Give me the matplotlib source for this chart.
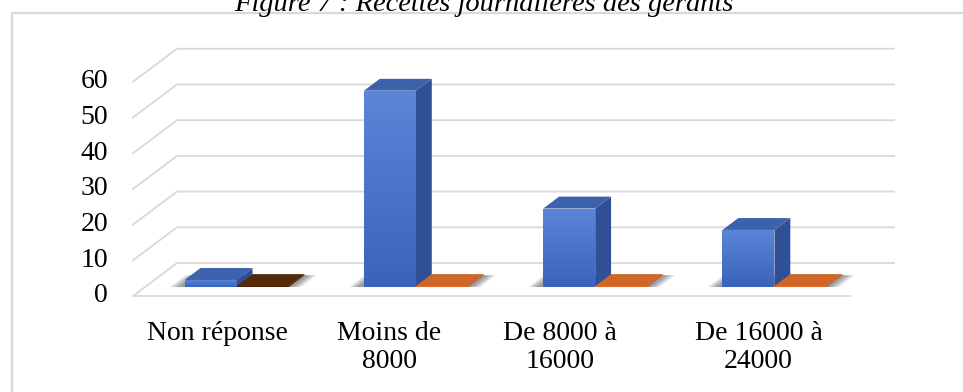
import matplotlib.pyplot as plt
import numpy as np
from matplotlib.patches import Polygon, Rectangle
from matplotlib.lines import Line2D
from matplotlib.colors import LinearSegmentedColormap

# data
categories = ['Non réponse', 'Moins de\n8000', 'De 8000 à\n16000', 'De 16000 à\n24000']
serie1 = [2, 55, 22, 16]
serie2 = [0.3, 0.3, 0.3, 0.3]
yticks = [0, 10, 20, 30, 40, 50, 60]
title = 'Figure 7 : Recettes journalières des gérants'

W, H = 963, 392
fig = plt.figure(figsize=(W / 100, H / 100), dpi=100)
ax = fig.add_axes([0, 0, 1, 1])
ax.axis('off')

# fake 3d: depth offset of the floor, in data units
DX, DY = 0.2455, 9.24
d0, bd = 0.27, 0.36  # where the bars sit in depth
grid_c = '#d9d9d9'
serif = 'Liberation Serif'
n = len(categories)

# walls / grid
for v in yticks:
    ax.plot([-0.5, -0.5 + DX, n - 0.5 + DX], [v, v + DY, v + DY], color=grid_c, lw=1.3, zorder=1)
ax.plot([-0.5, n - 0.5], [0, 0], color=grid_c, lw=1.3, zorder=1)

blue_grad = LinearSegmentedColormap.from_list('b', ['#3a64bc', '#5b85d6'])


def box(x0, w, h, front, side, top, grad=None):
    ox, oy = d0 * DX, d0 * DY
    bx, by = bd * DX, bd * DY
    x = x0 + ox
    rect = Rectangle((x, oy), w, h, facecolor=front, edgecolor='none', zorder=3)
    ax.add_patch(rect)
    if grad is not None:
        img = ax.imshow(np.linspace(0, 1, 50).reshape(-1, 1), extent=[x, x + w, oy, oy + h],
                        origin='lower', cmap=grad, aspect='auto', zorder=3.1)
        img.set_clip_path(rect)
    ax.add_patch(Polygon([(x + w, oy), (x + w + bx, oy + by), (x + w + bx, oy + by + h), (x + w, oy + h)],
                         closed=True, facecolor=side, edgecolor='none', zorder=3))
    ax.add_patch(Polygon([(x, oy + h), (x + w, oy + h), (x + w + bx, oy + h + by), (x + bx, oy + h + by)],
                         closed=True, facecolor=top, edgecolor='none', zorder=3))


w = 0.29
for i in range(n):
    # soft shadow on the floor, mostly on the left side
    ox, oy = d0 * DX, d0 * DY
    for k in range(5):
        e = 0.012 * k
        xl = i - 0.278 - 0.035 - e + ox
        xr = i + 0.012 + w + 0.02 + e + ox
        ax.add_patch(Polygon([(xl, oy), (xr, oy), (xr + bd * DX, oy + bd * DY), (xl + bd * DX, oy + bd * DY)],
                             closed=True, facecolor='black', alpha=0.09, edgecolor='none', zorder=2))
    box(i - 0.278, w, serie1[i], '#4472c4', '#2f5094', '#3d62ad', grad=blue_grad)
    if i == 0:
        box(i + 0.012, w, serie2[i], '#4a2508', '#3a1d06', '#552a0a')
    else:
        box(i + 0.012, w, serie2[i], '#e06c28', '#b85420', '#d0662a')

# value labels
for v in yticks:
    ax.text(-0.639, v, str(v), ha='right', va='center', fontsize=20, family=serif, color='black')

# category labels
shift = [-0.03, -0.07, -0.12, -0.01]
for i, lab in enumerate(categories):
    ax.text(i + shift[i], -7.0, lab, ha='center', va='top', fontsize=20, family=serif,
            linespacing=1.15, color='black')

ax.set_xlim(-1.242, 4.130)
ax.set_ylim(-26.9, 82.9)

# outer frame and the caption, cut at the top edge as in the source
fig.add_artist(Line2D([12 / W, 12 / W, 1], [0, 1 - 13 / H, 1 - 13 / H], color=grid_c, lw=1.6,
                      transform=fig.transFigure))
fig.text(484 / W, 1 - 11 / H, title, ha='center', va='baseline', fontsize=20.5, style='italic', family=serif)

fig.savefig('out.png', dpi=100)
